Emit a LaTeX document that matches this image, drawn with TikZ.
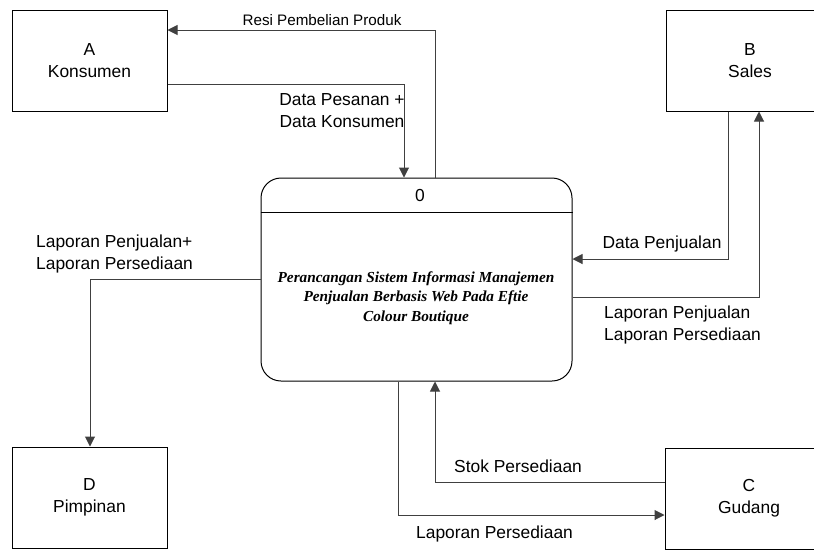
\documentclass[tikz,border=0pt]{standalone}
\usepackage{fontspec}
\setmainfont{Liberation Sans}
\newfontfamily\procfont{Liberation Serif}
\usetikzlibrary{arrows.meta}
\tikzset{
  entity/.style={draw=black, line width=1pt, rectangle, align=center, inner sep=0pt,
    font=\fontsize{17.4}{22}\selectfont},
  proc/.style={draw=black, line width=1pt, rectangle, rounded corners=20pt, inner sep=0pt},
  flow/.style={draw=black!75, line width=1pt, -{Triangle[length=10pt,width=10pt]}},
  lbl/.style={inner sep=0pt, font=\fontsize{17.4}{22}\selectfont},
}
\begin{document}
\begin{tikzpicture}[x=1pt,y=-1pt]
\useasboundingbox (0,0) rectangle (814,550);
% external entities
\node[entity, minimum width=155, minimum height=101] (A) at (89.5,60.5) {A\\Konsumen};
\node[entity, minimum width=168, minimum height=101] (B) at (750,60.5) {B\\Sales};
\node[entity, minimum width=168, minimum height=101] (C) at (749,498.5) {C\\Gudang};
\node[entity, minimum width=155, minimum height=101] (D) at (89.5,497.5) {D\\Pimpinan};
% process
\node[proc, minimum width=311, minimum height=203] (P) at (416.5,279.5) {};
\coordinate (pd) at (0,212);
\draw[line width=1pt] (P.west |- pd) -- (P.east |- pd);
\node[lbl, anchor=base] (P0) at (420,201) {0};
\node[inner sep=0pt, anchor=north, align=center,
  font=\procfont\bfseries\itshape\fontsize{15.3}{19.5}\selectfont] (PT) at (416,271.2)
  {Perancangan Sistem Informasi Manajemen\\Penjualan Berbasis Web Pada Eftie\\Colour Boutique};
% bend points
\coordinate (r1) at (435,30);
\coordinate (d1) at (404,84);
\coordinate (l1) at (90,279);
\coordinate (s1) at (728,259);
\coordinate (s2) at (759,297);
\coordinate (c1) at (435,482);
\coordinate (c2) at (398,515);
% flows
\draw[flow] (P.north -| r1) -- (r1) -- (A.east |- r1);
\draw[flow] (A.east |- d1) -- (d1) -- (P.north -| d1);
\draw[flow] (P.west |- l1) -- (l1) -- (D.north -| l1);
\draw[flow] (B.south -| s1) -- (s1) -- (P.east |- s1);
\draw[flow] (P.east |- s2) -- (s2) -- (B.south -| s2);
\draw[flow] (C.west |- c1) -- (c1) -- (P.south -| c1);
\draw[flow] (P.south -| c2) -- (c2) -- (C.west |- c2);
% labels
\node[lbl, anchor=base, font=\fontsize{15.2}{18}\selectfont] (t1) at (322,25) {Resi Pembelian Produk};
\node[lbl, anchor=north, align=center] (t2) at (342,93.4) {Data Pesanan +\\Data Konsumen};
\node[lbl, anchor=north west, align=left] (t3) at (36,234.4) {Laporan Penjualan+\\Laporan Persediaan};
\node[lbl, anchor=base] (t4) at (662,248) {Data Penjualan};
\node[lbl, anchor=north west, align=left] (t5) at (604,305.4) {Laporan Penjualan\\Laporan Persediaan};
\node[lbl, anchor=base west] (t6) at (454,472) {Stok Persediaan};
\node[lbl, anchor=base west] (t7) at (416,538) {Laporan Persediaan};
\end{tikzpicture}
\end{document}
